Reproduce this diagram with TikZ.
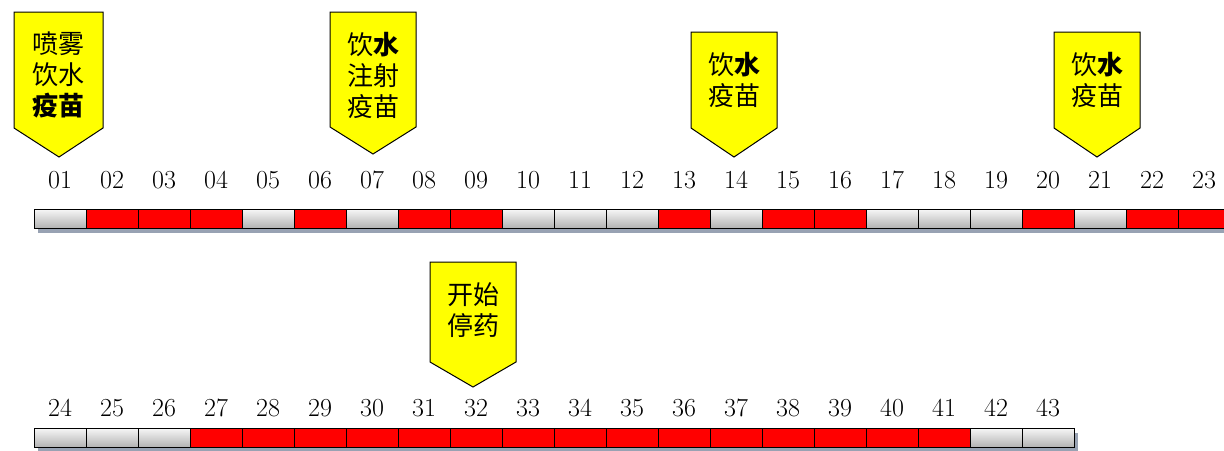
\documentclass[tikz,border=0pt]{standalone}
\usepackage{fontspec}
\newfontfamily\cjk{Noto Sans CJK SC}
\definecolor{shadowc}{HTML}{98A2B3}
\definecolor{callyel}{HTML}{FFFF00}
\tikzset{
  cellbox/.style={draw=black, line width=1pt, minimum width=52pt, minimum height=19pt, inner sep=0pt, anchor=center},
  redcell/.style={cellbox, fill=red},
  graycell/.style={cellbox, top color=gray!6, bottom color=gray!60},
  numlbl/.style={font=\fontsize{26}{26}\selectfont, inner sep=0pt, anchor=center},
  callout/.style={draw=black, line width=1pt, fill=callyel, line join=miter},
  calltext/.style={font=\cjk\fontsize{26}{31}\selectfont, align=center, inner sep=0pt, anchor=center},
}
\begin{document}
\begin{tikzpicture}[x=1pt,y=-1pt]
\useasboundingbox (0,0) rectangle (1224,450);
% shadows
\fill[shadowc] (38,214) rectangle (1228,233);
\fill[shadowc] (38,433) rectangle (1078,452);
% top row
\foreach \i/\t [count=\k from 0] in {01/g,02/r,03/r,04/r,05/g,06/r,07/g,08/r,09/r,10/g,11/g,12/g,13/r,14/g,15/r,16/r,17/g,18/g,19/g,20/r,21/g,22/r,23/r}{
  \pgfmathsetmacro{\xx}{60+52*\k}
  \if\t r
    \node[redcell] (c\i) at (\xx,218.5) {};
  \else
    \node[graycell] (c\i) at (\xx,218.5) {};
  \fi
  \node[numlbl] (l\i) at (\xx,180) {\i};
}
% bottom row
\foreach \i/\t [count=\k from 0] in {24/g,25/g,26/g,27/r,28/r,29/r,30/r,31/r,32/r,33/r,34/r,35/r,36/r,37/r,38/r,39/r,40/r,41/r,42/g,43/g}{
  \pgfmathsetmacro{\xx}{60+52*\k}
  \if\t r
    \node[redcell] (c\i) at (\xx,437.5) {};
  \else
    \node[graycell] (c\i) at (\xx,437.5) {};
  \fi
  \node[numlbl] (l\i) at (\xx,408) {\i};
}
% callouts
\draw[callout] (14,12) -- (103,12) -- (103,128) -- (59,157) -- (14,128) -- cycle;
\node[calltext] (t1) at (58.5,75) {喷雾\\饮水\\{\bfseries 疫苗}};
\draw[callout] (330,12) -- (416,12) -- (416,127) -- (373,154) -- (330,127) -- cycle;
\node[calltext] (t2) at (373,75) {饮{\bfseries 水}\\注射\\疫苗};
\draw[callout] (691,32) -- (777,32) -- (777,128) -- (734,157) -- (691,128) -- cycle;
\node[calltext] (t3) at (734,80) {饮{\bfseries 水}\\疫苗};
\draw[callout] (1054,32) -- (1140,32) -- (1140,128) -- (1097,157) -- (1054,128) -- cycle;
\node[calltext] (t4) at (1097,80) {饮{\bfseries 水}\\疫苗};
\draw[callout] (430,262) -- (516,262) -- (516,362) -- (473,387) -- (430,362) -- cycle;
\node[calltext] (t5) at (473,310) {开始\\停药};
\end{tikzpicture}
\end{document}
